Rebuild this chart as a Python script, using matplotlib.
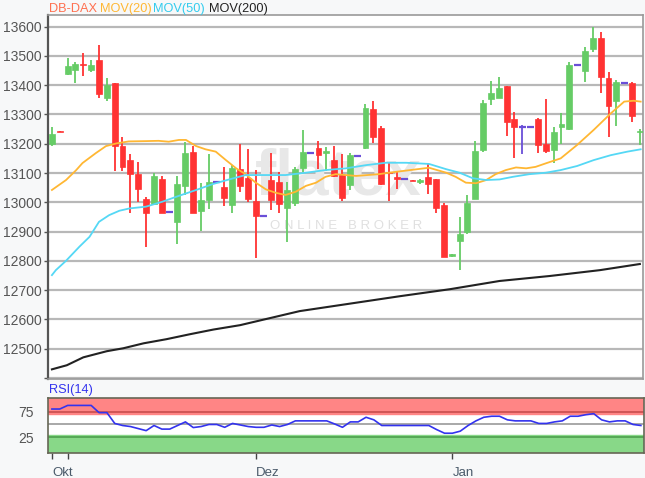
import matplotlib
matplotlib.use('Agg')
import matplotlib.pyplot as plt

# ---------------- data ----------------
opens = [13198, 13243, 13438, 13452, 13472, 13452, 13486, 13357, 13406, 13192,
         13144, 13096, 13010, 12993, 13078, 12968, 12933, 13055, 13173, 12970,
         13007, 13069, 13053, 12990, 13112, 13082, 13004, 12954, 13076, 13068,
         12982, 12996, 13116, 13170, 13185, 13169, 13144, 13093, 13059, 13159,
         13184, 13319, 13255, 13104, 13087, 13078, 13075, 13068, 13087, 13078,
         12990, 12816, 12867, 12899, 13011, 13178, 13352, 13358, 13397, 13283,
         13258, 13258, 13285, 13199, 13178, 13256, 13249, 13469, 13448, 13524,
         13560, 13426, 13346, 13409, 13406, 13239]
highs = [13258, 13245, 13492, 13478, 13509, 13486, 13537, 13426, 13406, 13222,
         13165, 13138, 13019, 13099, 13089, 12969, 13091, 13207, 13192, 13067,
         13165, 13070, 13119, 13127, 13199, 13181, 13110, 12955, 13170, 13104,
         13070, 13121, 13247, 13171, 13209, 13190, 13192, 13165, 13167, 13160,
         13336, 13345, 13260, 13138, 13104, 13079, 13076, 13079, 13133, 13078,
         12998, 12824, 12950, 13024, 13209, 13349, 13415, 13429, 13397, 13308,
         13264, 13259, 13289, 13352, 13258, 13306, 13480, 13470, 13532, 13600,
         13581, 13446, 13418, 13410, 13412, 13252]
lows = [13193, 13239, 13435, 13406, 13431, 13444, 13358, 13346, 13108, 13108,
        12962, 13002, 12848, 12990, 12962, 12967, 12856, 13025, 12962, 12903,
        12977, 13068, 12988, 12965, 13034, 13002, 12810, 12953, 12973, 12962,
        12865, 12987, 13104, 13169, 13113, 13108, 13085, 13005, 13042, 13158,
        13181, 13201, 13059, 13004, 13047, 13077, 13071, 13064, 13028, 12962,
        12812, 12814, 12768, 12893, 13011, 13173, 13332, 13355, 13226, 13150,
        13165, 13257, 13169, 13167, 13133, 13199, 13247, 13468, 13412, 13515,
        13374, 13224, 13260, 13408, 13275, 13196]
closes = [13232, 13240, 13466, 13471, 13468, 13470, 13370, 13401, 13192, 13121,
          13096, 13044, 12964, 13091, 12964, 12968, 13062, 13167, 12964, 13007,
          13069, 13069, 13013, 13118, 13056, 13011, 12953, 12954, 13007, 12994,
          13043, 13115, 13173, 13170, 13161, 13175, 13089, 13013, 13161, 13159,
          13323, 13224, 13064, 13099, 13078, 13078, 13072, 13076, 13064, 12979,
          12814, 12823, 12890, 12998, 13176, 13340, 13372, 13389, 13275, 13256,
          13258, 13258, 13195, 13175, 13241, 13268, 13469, 13469, 13518, 13560,
          13427, 13329, 13412, 13409, 13295, 13243]

ma20_idx = [0, 1.8, 3.1, 3.9, 5.6, 6.9, 8.2, 9.8, 12, 13.6, 14.9, 16.2, 17.1, 18.4,
            19.6, 20.9, 22.2, 23.5, 24.7, 26, 27.3, 28.6, 29.8, 31.1, 32.4, 33.7,
            34.9, 36.2, 37.5, 38.8, 41.7, 43, 48.1, 50.3, 51.5, 52.8, 54.1, 55.4,
            56.6, 57.9, 59.2, 60.5, 61.7, 63, 64.9, 67, 69.1, 71.3, 73, 74.2, 75.1]
ma20_val = [13042, 13076, 13110, 13134, 13168, 13192, 13201, 13208, 13209, 13210,
            13207, 13213, 13213, 13192, 13181, 13173, 13144, 13116, 13096, 13067,
            13044, 13032, 13025, 13036, 13056, 13067, 13087, 13096, 13093, 13090,
            13096, 13101, 13118, 13101, 13087, 13067, 13065, 13076, 13096, 13110,
            13119, 13116, 13121, 13133, 13150, 13196, 13247, 13304, 13344, 13347,
            13344]

ma50_idx = [0, 0.5, 1.8, 3.5, 4.8, 6, 7.3, 8.6, 9.9, 12, 14.1, 16.2, 18.4, 20.5,
            22.6, 24.7, 27.3, 29.8, 32.4, 34.9, 37.5, 40.1, 42.6, 45.2, 48.1, 50.3,
            52, 53.7, 55.4, 57.1, 58.8, 60.9, 63, 64.9, 67, 69.1, 71.3, 73.4, 75.1]
ma50_val = [12751, 12768, 12800, 12848, 12882, 12933, 12956, 12971, 12979, 12985,
            13002, 13022, 13042, 13062, 13078, 13093, 13093, 13093, 13101, 13110,
            13116, 13127, 13135, 13135, 13131, 13113, 13101, 13082, 13076, 13078,
            13087, 13096, 13101, 13110, 13124, 13144, 13161, 13173, 13181]

ma200_idx = [0, 1.9, 4, 7, 9.1, 11.7, 14.6, 17.6, 20.6, 24, 31.6, 44.4, 50.8,
             57.1, 63.5, 69.9, 75]
ma200_val = [12429, 12443, 12470, 12491, 12501, 12518, 12532, 12549, 12565, 12580,
             12628, 12679, 12703, 12731, 12748, 12768, 12789]

rsi = [80, 80, 87, 87, 87, 87, 73, 73, 52, 48, 46, 42, 38, 48, 41, 41, 48, 55,
       44, 46, 50, 50, 44.5, 52, 49, 46, 44.5, 44.5, 49, 46, 50, 57, 57, 57, 57,
       57, 51, 44.5, 55, 55, 64, 59, 48, 48, 48, 48, 48, 48, 48, 40, 33, 33, 37,
       48, 57, 64, 66, 66, 59, 57, 57, 57, 52, 52, 55, 57, 66, 66, 69, 71, 59,
       55, 57, 57, 50, 48]

price_ticks = [12400, 12500, 12600, 12700, 12800, 12900, 13000, 13100, 13200,
               13300, 13400, 13500, 13600]
price_labels = ['', '12500', '12600', '12700', '12800', '12900', '13000', '13100',
                '13200', '13300', '13400', '13500', '13600']
month_pos = [0, 2, 26, 51]
month_labels = ['Okt', '', 'Dez', 'Jan']

# ---------------- styling ----------------
plt.rcParams['font.family'] = ['Liberation Sans', 'DejaVu Sans']
W, H = 645, 478
fig = plt.figure(figsize=(W / 100, H / 100), dpi=100, facecolor='#f7f8f9')

def fr(x0, y0, x1, y1):
    return [x0 / W, 1 - y1 / H, (x1 - x0) / W, (y1 - y0) / H]

ax = fig.add_axes(fr(48, 15, 643, 379))
ax.set_facecolor('white')
ax.set_xlim(-0.5, 75.4)
ax.set_ylim(12396, 13640)
ax.set_yticks(price_ticks)
ax.set_yticklabels(price_labels)
ax.set_xticks([])
ax.yaxis.grid(True, color='#b8b8b8', lw=1.6)
ax.set_axisbelow(True)
ax.tick_params(axis='y', length=3, width=1, color='#555555', labelsize=10,
               labelcolor='#555555', pad=1.5)
for s in ['top', 'right', 'bottom']:
    ax.spines[s].set_color('#9a9a9a')
    ax.spines[s].set_linewidth(1.2)
ax.spines['left'].set_color('#555555')
ax.spines['left'].set_linewidth(1.6)

# watermark
ax.text(36.5, 13085, 'flatex', fontsize=46, fontweight='bold', color='#e8e8e8',
        ha='center', va='center', zorder=1)
ax.text(37.5, 12918, 'O N L I N E   B R O K E R', fontsize=9.5, color='#e0e0e0',
        ha='center', va='center', zorder=1)

green = '#66cc66'
red = '#ff3333'
purple = '#6a4fd8'
bw = 0.75
for i in range(len(opens)):
    o, h, l, c = opens[i], highs[i], lows[i], closes[i]
    if c > o:
        col = green
    elif c < o:
        col = red
    else:
        col = purple
    if col == purple:
        if h - l > 4:
            ax.vlines(i, l, h, color=col, lw=1.3, zorder=3)
        ax.hlines(c, i - 0.45, i + 0.45, color=col, lw=1.6, zorder=3)
        continue
    ax.vlines(i, l, h, color=col, lw=1.3, zorder=3)
    bot = min(o, c)
    hgt = max(abs(c - o), 4)
    ax.bar(i, hgt, bottom=bot, width=bw, color=col, edgecolor=col, lw=0.5, zorder=4)

ax.plot(ma20_idx, ma20_val, color='#ffb733', lw=1.3, zorder=5)
ax.plot(ma50_idx, ma50_val, color='#55d8f5', lw=1.3, zorder=5)
ax.plot(ma200_idx, ma200_val, color='#222222', lw=1.5, zorder=5)

# legend texts
fig.text(49 / W, 1 - 9 / H, 'DB-DAX', color='#ff7050', fontsize=9.2, va='center')
fig.text(100 / W, 1 - 9 / H, 'MOV(20)', color='#ffb733', fontsize=9.2, va='center')
fig.text(153.5 / W, 1 - 9 / H, 'MOV(50)', color='#33ccee', fontsize=9.2, va='center')
fig.text(209 / W, 1 - 9 / H, 'MOV(200)', color='#222222', fontsize=9.2, va='center')

# ---------------- RSI panel ----------------
ax2 = fig.add_axes(fr(48, 397.7, 644, 453.3))
ax2.set_facecolor('white')
ax2.set_xlim(-0.5, 75.4)
ax2.set_ylim(-6, 102)
ax2.axhspan(70, 102, color='#ff8585', zorder=0)
ax2.axhspan(-6, 30, color='#88d888', zorder=0)
ax2.axhline(75, color='#d05555', lw=1.4, zorder=1)
ax2.axhline(50, color='#a8a8a8', lw=1.4, zorder=1)
ax2.axhline(25, color='#55a855', lw=1.4, zorder=1)
ax2.plot(range(len(rsi)), rsi, color='#3333ee', lw=1.2, zorder=3)
ax2.set_yticks([25, 75])
ax2.set_yticklabels(['25', '75'])
ax2.tick_params(axis='y', length=0, labelsize=10, labelcolor='#555555', pad=10)
ax2.set_xticks(month_pos)
ax2.set_xticklabels(month_labels, ha='left')
ax2.tick_params(axis='x', length=4, width=1, color='#444444', labelsize=9.5,
                labelcolor='#4a5a6a', pad=6)
for s in ax2.spines.values():
    s.set_color('#666655')
    s.set_linewidth(1.2)
fig.text(49 / W, 1 - 390 / H, 'RSI(14)', color='#3333ee', fontsize=9.2, va='center')

fig.savefig('out.png', dpi=100, facecolor=fig.get_facecolor())
